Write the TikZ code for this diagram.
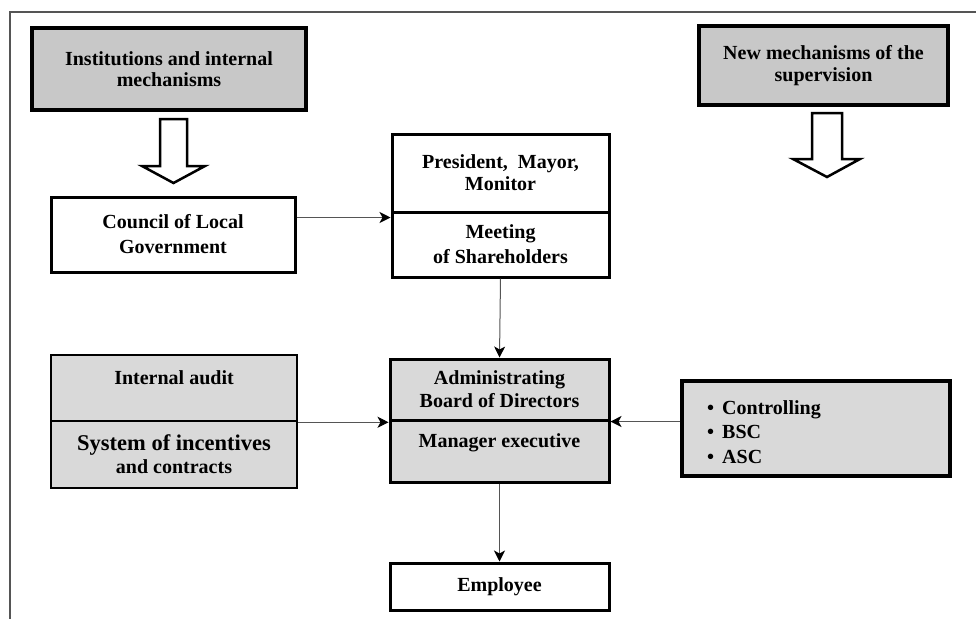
\documentclass[tikz,border=0pt]{standalone}
\usepackage{fontspec}
\setmainfont{Liberation Serif}
\usetikzlibrary{arrows.meta}
\definecolor{hdrgray}{RGB}{200,200,200}
\definecolor{boxgray}{RGB}{217,217,217}
\definecolor{linegray}{RGB}{85,85,85}
\begin{document}
\begin{tikzpicture}[x=1pt,y=-1pt,
  box/.style={draw=black, rectangle, inner sep=0pt, align=center,
    font=\fontsize{20}{22}\selectfont\bfseries},
  hdr/.style={box, fill=hdrgray, line width=4.5pt},
  wbox/.style={box, fill=white, line width=3pt},
  gbox/.style={box, fill=boxgray, line width=3pt},
  txt/.style={inner sep=0pt, align=center, font=\fontsize{20}{22}\selectfont\bfseries},
  conn/.style={draw=linegray, line width=1pt, -{Stealth[length=11pt,width=11pt,inset=3pt,color=black]}},
  hollow/.style={draw=black, fill=white, line width=2.5pt, line join=miter},
  framepen/.style={draw=linegray, line width=1.2pt}]
\useasboundingbox (0,0) rectangle (976,619);
\fill[white] (0,0) rectangle (976,619);
% frame
\draw[framepen] (976,12) -- (10,12) -- (10,619);
% headers
\node[hdr, minimum width=274pt, minimum height=82pt, font=\fontsize{20}{21}\selectfont\bfseries] (inst) at (169,69) {Institutions and internal\\mechanisms};
\node[hdr, minimum width=249pt, minimum height=79pt] (newm) at (823.5,65.5) {New mechanisms of the\\supervision};
% hollow arrows
\draw[hollow] (160,119) -- (187,119) -- (187,166) -- (205,166) -- (173.5,183) -- (142,166) -- (160,166) -- cycle;
\draw[hollow] (812,113) -- (842,113) -- (842,159) -- (860,159) -- (827,177) -- (793,159) -- (812,159) -- cycle;
% left column
\node[wbox, minimum width=244pt, minimum height=75pt, font=\fontsize{20}{25}\selectfont\bfseries] (council) at (173,234.5) {Council of Local\\Government};
\node[gbox, line width=2.5pt, minimum width=246pt, minimum height=66pt] (audit) at (174,388) {};
\node[txt] (auditt) at (174,378) {Internal audit};
\node[gbox, line width=2.5pt, minimum width=246pt, minimum height=67pt, font=\fontsize{20}{23}\selectfont\bfseries] (sys) at (174,454.5) {{\fontsize{22.5}{23}\selectfont System of incentives}\\and contracts};
% centre column
\node[wbox, minimum width=217pt, minimum height=78pt] (pres) at (500.5,173) {President,\ \ Mayor,\\Monitor};
\node[wbox, minimum width=217pt, minimum height=65pt, font=\fontsize{20}{25}\selectfont\bfseries] (meet) at (500.5,244.5) {Meeting\\ of Shareholders};
\node[gbox, minimum width=219pt, minimum height=61pt, font=\fontsize{20}{23}\selectfont\bfseries] (admin) at (499.5,389.5) {Administrating\\Board of Directors};
\node[gbox, minimum width=219pt, minimum height=62pt] (mgr) at (499.5,451) {};
\node[txt] (mgrt) at (499.5,443) {Manager executive};
\node[wbox, minimum width=219pt, minimum height=47pt] (emp) at (499.5,586.5) {Employee};
% right column
\node[gbox, line width=4pt, minimum width=268pt, minimum height=95pt] (ctrl) at (816,428.5) {};
\node[inner sep=0pt, anchor=base west, align=left, font=\fontsize{20}{24.5}\selectfont\bfseries] (list) at (707,463)
  {\makebox[15pt][l]{\textbullet}Controlling\\\makebox[15pt][l]{\textbullet}BSC\\\makebox[15pt][l]{\textbullet}ASC};
% connectors
\coordinate (pin) at ([yshift=-4pt]pres.south west);
\draw[conn] (council.east |- pin) -- (pin);
\draw[conn] (meet.south) -- (admin.north);
\draw[conn] (audit.south east) -- (audit.south east -| admin.west);
\draw[conn] (ctrl.west |- admin.south east) -- (admin.south east);
\draw[conn] (mgr.south) -- (emp.north);
\end{tikzpicture}
\end{document}
